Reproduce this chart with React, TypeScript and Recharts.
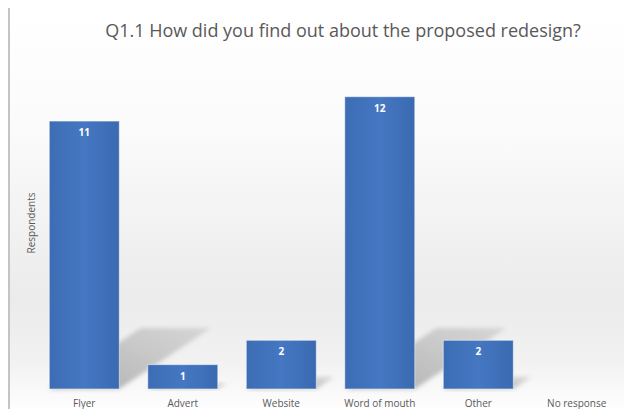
import React from 'react';
import { BarChart, Bar, XAxis, YAxis, LabelList } from 'recharts';

const categories = ['Flyer', 'Advert', 'Website', 'Word of mouth', 'Other', 'No response'];
const respondents = [11, 1, 2, 12, 2, 0];

const data = categories.map((name, i) => ({ name, value: respondents[i] }));

const BarWithShadow = (props: any) => {
  const { x, y, width, height } = props;
  if (!height || height <= 0) return null;
  const base = y + height;
  const dy = Math.min(height * 0.25, 61);
  const dx = dy * 1.5;
  const shadow = `M${x},${base} L${x + width},${base} L${x + width + dx},${base - dy} L${x + dx},${base - dy} Z`;
  return (
    <g>
      <path d={shadow} fill="url(#shadowGrad)" filter="url(#blur)" />
      <rect x={x} y={y} width={width} height={height} fill="url(#barGrad)" stroke="#ffffff" strokeOpacity={0.5} strokeWidth={1} />
    </g>
  );
};

export default function App() {
  return (
    <div style={{ position: 'relative', marginTop: -3, width: 640, height: 410, fontFamily: 'Open Sans, sans-serif' }}>
      <div
        style={{
          position: 'absolute',
          left: 0,
          top: 0,
          width: 640,
          height: 410,
          boxSizing: 'border-box',
          border: '2px solid #c4c4c4',
          background: 'linear-gradient(to bottom, #ffffff 0%, #fbfbfb 30%, #ebebeb 72%, #f2f2f2 88%, #ffffff 100%)',
        }}
      />
      <div
        style={{
          position: 'absolute',
          left: 0,
          width: 670,
          top: 13,
          textAlign: 'center',
          fontSize: 18,
          color: '#595959',
        }}
      >
        Q1.1 How did you find out about the proposed redesign?
      </div>
      <div style={{ position: 'absolute', left: 0, top: 0 }}>
        <BarChart
          width={640}
          height={410}
          data={data}
          margin={{ top: 43, right: 22, bottom: 0, left: 27 }}
          barCategoryGap="14.5%"
        >
          <defs>
            <linearGradient id="barGrad" x1="0" y1="0" x2="1" y2="0">
              <stop offset="0%" stopColor="#3c6db4" />
              <stop offset="50%" stopColor="#4577c2" />
              <stop offset="100%" stopColor="#3a6ab0" />
            </linearGradient>
            <linearGradient id="shadowGrad" x1="0" y1="1" x2="1" y2="0">
              <stop offset="0%" stopColor="#7a7a7a" stopOpacity={0.6} />
              <stop offset="100%" stopColor="#a8a8a8" stopOpacity={0.35} />
            </linearGradient>
            <filter id="blur" x="-20%" y="-20%" width="140%" height="140%">
              <feGaussianBlur stdDeviation="2" />
            </filter>
          </defs>
          <XAxis
            dataKey="name"
            axisLine={false}
            tickLine={false}
            height={26}
            tickMargin={5}
            interval={0}
            tick={{ fontSize: 10, fill: '#595959' }}
          />
          <YAxis hide domain={[0, 14]} />
          <Bar dataKey="value" shape={BarWithShadow} isAnimationActive={false}>
            <LabelList
              dataKey="value"
              position="insideTop"
              offset={8}
              fill="#ffffff"
              fontSize={10}
              fontWeight="bold"
              formatter={(v: any) => (v > 0 ? v : '')}
            />
          </Bar>
        </BarChart>
      </div>
      <div
        style={{
          position: 'absolute',
          left: 23,
          top: 218,
          transform: 'translate(-50%, -50%) rotate(-90deg)',
          fontSize: 10,
          color: '#595959',
          whiteSpace: 'nowrap',
        }}
      >
        Respondents
      </div>
    </div>
  );
}
